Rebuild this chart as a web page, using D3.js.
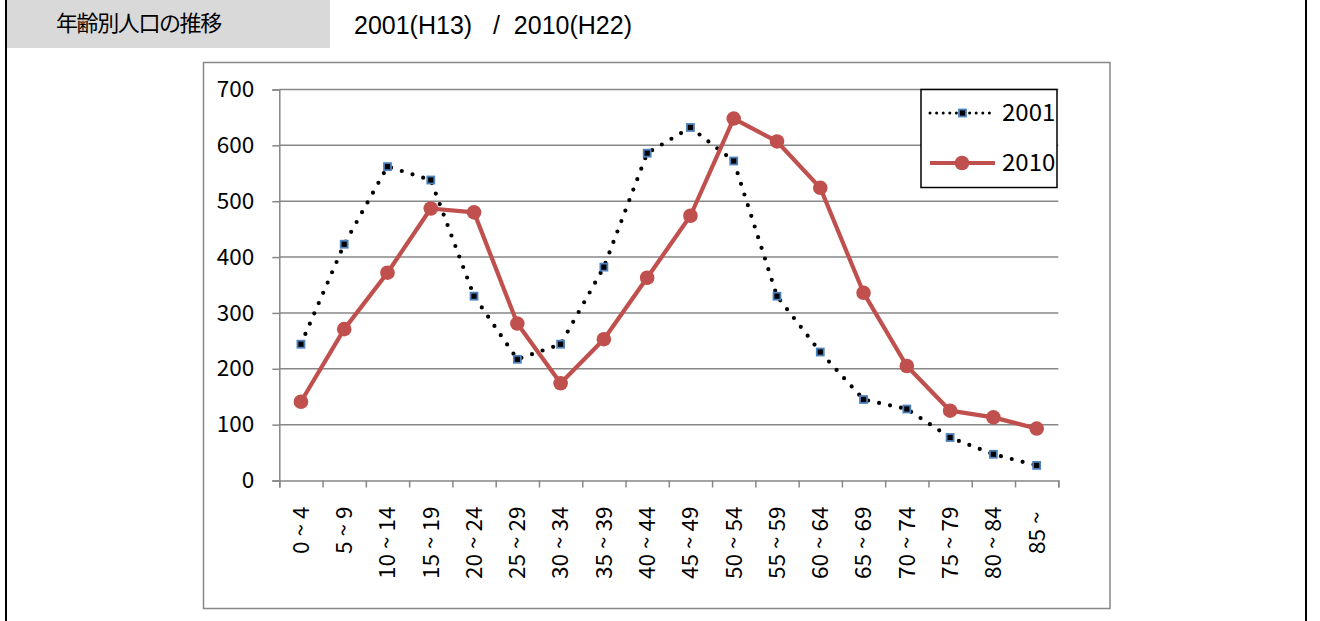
<!DOCTYPE html>
<html>
<head>
<meta charset="utf-8">
<script src="https://cdn.jsdelivr.net/npm/d3@7"></script>
<style>
  html, body { margin: 0; padding: 0; background: #fff; }
  svg { display: block; }
  text { white-space: pre; }
</style>
</head>
<body>
<svg id="chart" width="1320" height="621"></svg>
<script>
// Population by 5-year age group, 2001 and 2010
const ageGroups = ["0 ~ 4", "5 ~ 9", "10 ~ 14", "15 ~ 19", "20 ~ 24", "25 ~ 29",
  "30 ~ 34", "35 ~ 39", "40 ~ 44", "45 ~ 49", "50 ~ 54", "55 ~ 59",
  "60 ~ 64", "65 ~ 69", "70 ~ 74", "75 ~ 79", "80 ~ 84", "85 ~ "];
const pop2001 = [244, 423, 562, 538, 330, 217, 244, 382, 586, 632, 572, 330, 230, 145, 128, 77, 47, 27];
const pop2010 = [141, 271, 372, 487, 480, 281, 174, 253, 363, 474, 648, 607, 524, 336, 205, 125, 113, 93];
const yTicks = [0, 100, 200, 300, 400, 500, 600, 700];
const seriesNames = ["2001", "2010"];
const titleText = "年齢別人口の推移";
const subTitle1 = "2001(H13)";
const subTitle2 = "/  2010(H22)";

const svg = d3.select("#chart");
const FONT = "'Noto Sans CJK JP', 'Noto Sans', sans-serif";
const SANS = "'Liberation Sans', Arial, sans-serif";
const GRID = "#878787";
const RED = "#C0504D";
const BLUE = "#4F81BD";

// page frame and header band
svg.append("rect").attr("x", 7).attr("y", 0).attr("width", 323).attr("height", 48).attr("fill", "#d9d9d9");
svg.append("line").attr("x1", 6).attr("x2", 6).attr("y1", 0).attr("y2", 621).attr("stroke", "#000").attr("stroke-width", 2);
svg.append("line").attr("x1", 1306).attr("x2", 1306).attr("y1", 0).attr("y2", 621).attr("stroke", "#000").attr("stroke-width", 2);

svg.append("text").attr("x", 56).attr("y", 31).attr("font-family", FONT).attr("font-size", 22)
  .attr("letter-spacing", -1.4).attr("fill", "#000").text(titleText);
svg.append("text").attr("x", 354).attr("y", 34).attr("font-family", SANS)
  .attr("font-size", 25).attr("fill", "#000").text(subTitle1);
svg.append("text").attr("x", 493).attr("y", 34).attr("font-family", SANS)
  .attr("font-size", 25).attr("fill", "#000").text(subTitle2);

// chart area frame
svg.append("rect").attr("x", 203.5).attr("y", 62.5).attr("width", 906.5).attr("height", 546)
  .attr("fill", "#fff").attr("stroke", GRID).attr("stroke-width", 1.5);

const plotL = 279.3, plotR = 1058.3, plotT = 89.5, plotB = 480.5;
const x = d3.scaleBand().domain(ageGroups).range([plotL, plotR]);
const xb = d3.scaleLinear().domain([0, ageGroups.length]).range([plotL, plotR]);
const y = d3.scaleLinear().domain([0, 700]).range([plotB, plotT]);

// horizontal gridlines
svg.append("g").selectAll("line").data(yTicks.filter(d => d > 0)).join("line")
  .attr("x1", plotL).attr("x2", plotR).attr("y1", d => y(d)).attr("y2", d => y(d))
  .attr("stroke", GRID).attr("stroke-width", 1.5);

// y axis
const yAxis = svg.append("g").attr("transform", `translate(${plotL},0)`)
  .call(d3.axisLeft(y).tickValues(yTicks).tickSize(7).tickPadding(18).tickFormat(d3.format("d")));
yAxis.select(".domain").attr("stroke", GRID).attr("stroke-width", 1.5);
yAxis.selectAll(".tick line").attr("stroke", GRID).attr("stroke-width", 1.5);
yAxis.selectAll(".tick text").attr("font-family", FONT).attr("font-size", 22.5).attr("fill", "#000");

// x axis: ticks on category boundaries
const xAxis = svg.append("g").attr("transform", `translate(0,${plotB})`)
  .call(d3.axisBottom(xb).tickValues(d3.range(ageGroups.length + 1)).tickSize(7).tickFormat(""));
xAxis.select(".domain").attr("stroke", GRID).attr("stroke-width", 1.5);
xAxis.selectAll(".tick line").attr("stroke", GRID).attr("stroke-width", 1.5);

// x category labels, rotated
const xLab = svg.append("g").attr("transform", `translate(0,${plotB})`)
  .call(d3.axisBottom(x).tickSize(0).tickPadding(0));
xLab.select(".domain").remove();
xLab.selectAll(".tick text")
  .attr("font-family", FONT).attr("font-size", 22.5).attr("fill", "#000")
  .attr("transform", "rotate(-90)")
  .attr("x", -26).attr("y", 0).attr("dy", "0.35em")
  .attr("text-anchor", "end");

const cx = (d, i) => x(ageGroups[i]) + x.bandwidth() / 2;

// 2001: round-dot line with square markers
const line2001 = d3.line().x((d, i) => cx(d, i)).y(d => y(d));
svg.append("path").datum(pop2001).attr("d", line2001)
  .attr("fill", "none").attr("stroke", "#000").attr("stroke-width", 4.2)
  .attr("stroke-linecap", "round").attr("stroke-dasharray", "0 11.2");
svg.append("g").selectAll("rect").data(pop2001).join("rect")
  .attr("x", (d, i) => cx(d, i) - 3.5).attr("y", d => y(d) - 3.5)
  .attr("width", 7).attr("height", 7)
  .attr("fill", "#000").attr("stroke", BLUE).attr("stroke-width", 1.8);

// 2010: solid red line with round markers
const line2010 = d3.line().x((d, i) => cx(d, i)).y(d => y(d));
svg.append("path").datum(pop2010).attr("d", line2010)
  .attr("fill", "none").attr("stroke", RED).attr("stroke-width", 4.2).attr("stroke-linejoin", "round");
svg.append("g").selectAll("circle").data(pop2010).join("circle")
  .attr("cx", (d, i) => cx(d, i)).attr("cy", d => y(d)).attr("r", 7.3)
  .attr("fill", RED);

// legend
const lg = svg.append("g");
lg.append("rect").attr("x", 921).attr("y", 89.5).attr("width", 136).attr("height", 98)
  .attr("fill", "#fff").attr("stroke", "#000").attr("stroke-width", 1.5);
const rows = [113, 163];
lg.append("line").attr("x1", 930).attr("x2", 995).attr("y1", rows[0]).attr("y2", rows[0])
  .attr("stroke", "#000").attr("stroke-width", 3).attr("stroke-linecap", "round")
  .attr("stroke-dasharray", "0 6.6");
lg.append("rect").attr("x", 959).attr("y", rows[0] - 3.5).attr("width", 7).attr("height", 7)
  .attr("fill", "#000").attr("stroke", BLUE).attr("stroke-width", 1.8);
lg.append("line").attr("x1", 930).attr("x2", 995).attr("y1", rows[1]).attr("y2", rows[1])
  .attr("stroke", RED).attr("stroke-width", 4.2);
lg.append("circle").attr("cx", 962).attr("cy", rows[1]).attr("r", 7.3).attr("fill", RED);
lg.selectAll("text.lab").data(seriesNames).join("text").attr("class", "lab")
  .attr("x", 1002).attr("y", (d, i) => rows[i]).attr("dy", "0.35em")
  .attr("font-family", FONT).attr("font-size", 24).attr("fill", "#000").text(d => d);
</script>
</body>
</html>
